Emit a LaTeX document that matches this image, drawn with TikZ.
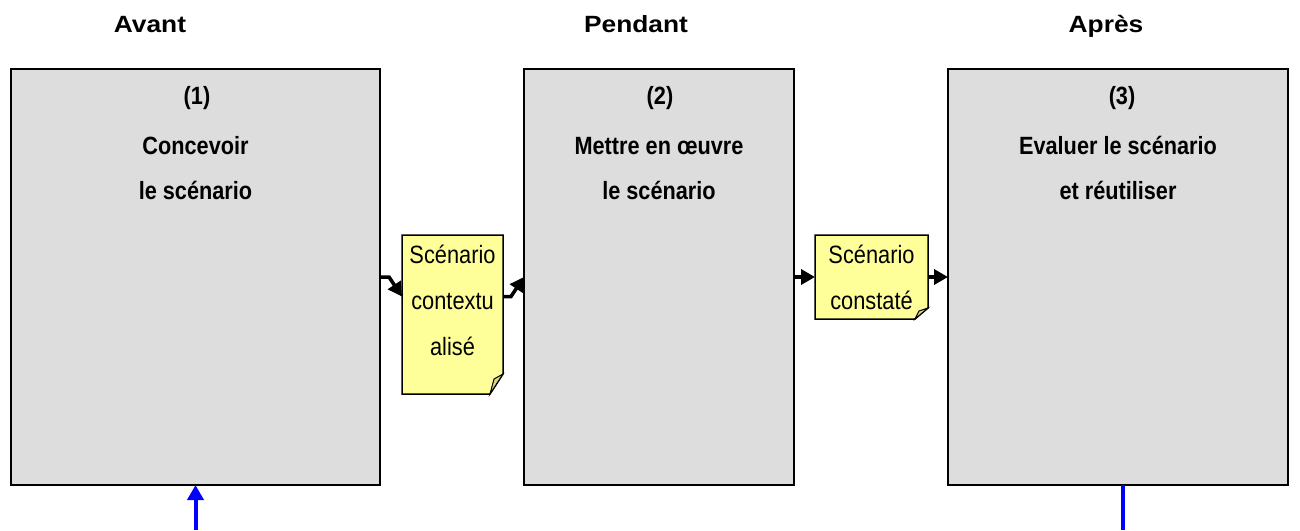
\documentclass[tikz,border=0pt]{standalone}
\usepackage{fontspec}
\setmainfont{Liberation Sans}
\usetikzlibrary{arrows.meta}
\definecolor{boxgray}{HTML}{DDDDDD}
\definecolor{noteyellow}{HTML}{FFFF99}
\definecolor{folddark}{HTML}{D6D68A}
\newcommand{\vstretch}[1]{\scalebox{1}[1.15]{#1}}
\newcommand{\hstretch}[1]{\scalebox{1.12}[1]{#1}}
\begin{document}
\begin{tikzpicture}[x=1pt,y=-1pt,
 stage/.style={draw=black,line width=2.8pt,fill=boxgray,anchor=north west,inner sep=0pt,outer sep=0pt},
 title/.style={font=\fontsize{23.5}{28}\selectfont\bfseries,anchor=base,inner sep=0pt},
 boxtxt/.style={font=\fontsize{21.7}{26}\selectfont\bfseries,anchor=base,inner sep=0pt},
 notetxt/.style={font=\fontsize{21.8}{26}\selectfont,anchor=base,inner sep=0pt},
 noteshape/.style={draw=black,line width=1.5pt,fill=noteyellow,line join=miter},
 foldshape/.style={draw=black,line width=1pt,fill=folddark,line join=miter},
 note/.style={anchor=north west,inner sep=0pt,outer sep=0pt},
 flow/.style={draw=black,line width=3.5pt,line join=miter,-{Triangle[length=14pt,width=15pt]}},
 feed/.style={draw=blue,line width=4pt},
]
\useasboundingbox (0,0) rectangle (1300,530);

% titles
\node[title] (h1) at (150,32) {\hstretch{Avant}};
\node[title] (h2) at (636,32) {\hstretch{Pendant}};
\node[title] (h3) at (1106,32) {\hstretch{Après}};

% stage boxes
\node[stage,minimum width=369pt,minimum height=416pt] (b1) at (11,69) {};
\node[stage,minimum width=270pt,minimum height=416pt] (b2) at (524,69) {};
\node[stage,minimum width=340pt,minimum height=416pt] (b3) at (948,69) {};

% stage texts
\node[boxtxt] (t1a) at (197,104) {\vstretch{(1)}};
\node[boxtxt] (t1b) at (195.5,154) {\vstretch{Concevoir}};
\node[boxtxt] (t1c) at (195.5,199) {\vstretch{le scénario}};
\node[boxtxt] (t2a) at (660,104) {\vstretch{(2)}};
\node[boxtxt] (t2b) at (659,154) {\vstretch{Mettre en œuvre}};
\node[boxtxt] (t2c) at (659,199) {\vstretch{le scénario}};
\node[boxtxt] (t3a) at (1122,104) {\vstretch{(3)}};
\node[boxtxt] (t3b) at (1118,154) {\vstretch{Evaluer le scénario}};
\node[boxtxt] (t3c) at (1118,199) {\vstretch{et réutiliser}};

% notes (folded corner documents)
\node[note,minimum width=101pt,minimum height=159pt] (n1) at (402,235) {};
\node[note,minimum width=113pt,minimum height=84pt] (n2) at (815,235) {};

\draw[noteshape] (n1.north west) -- (n1.north east) -- ([yshift=20pt]n1.south east)
  -- ([xshift=-13pt]n1.south east) -- (n1.south west) -- cycle;
\draw[foldshape] ([yshift=20pt]n1.south east) -- ([xshift=-13pt]n1.south east)
  -- ([xshift=-9pt,yshift=15pt]n1.south east) -- cycle;
\draw[noteshape] (n2.north west) -- (n2.north east) -- ([yshift=11pt]n2.south east)
  -- ([xshift=-13pt]n2.south east) -- (n2.south west) -- cycle;
\draw[foldshape] ([yshift=11pt]n2.south east) -- ([xshift=-13pt]n2.south east)
  -- ([xshift=-9pt,yshift=8pt]n2.south east) -- cycle;

\node[notetxt] (m1a) at (452.5,263) {\vstretch{Scénario}};
\node[notetxt] (m1b) at (452.5,309) {\vstretch{contextu}};
\node[notetxt] (m1c) at (452.5,355) {\vstretch{alisé}};
\node[notetxt] (m2a) at (871.5,263) {\vstretch{Scénario}};
\node[notetxt] (m2b) at (871.5,309) {\vstretch{constaté}};

% flow connectors
\draw[flow] (b1.east) -- ++(9,0) -- ([yshift=18pt]n1.west);
\draw[flow] ([yshift=18pt]n1.east) -- ++(8,0) -- (b2.west);
\draw[flow] (b2.east) -- (n2.west);
\draw[flow] (n2.east) -- (b3.west);

% feedback lines
\coordinate (fb1) at (195.5,530);
\coordinate (fb3) at (1123,530);
\draw[feed,-{Triangle[length=15pt,width=16pt]}] (fb1) -- (fb1 |- b1.south);
\draw[feed] (fb3 |- b3.south) -- (fb3);
\end{tikzpicture}
\end{document}
